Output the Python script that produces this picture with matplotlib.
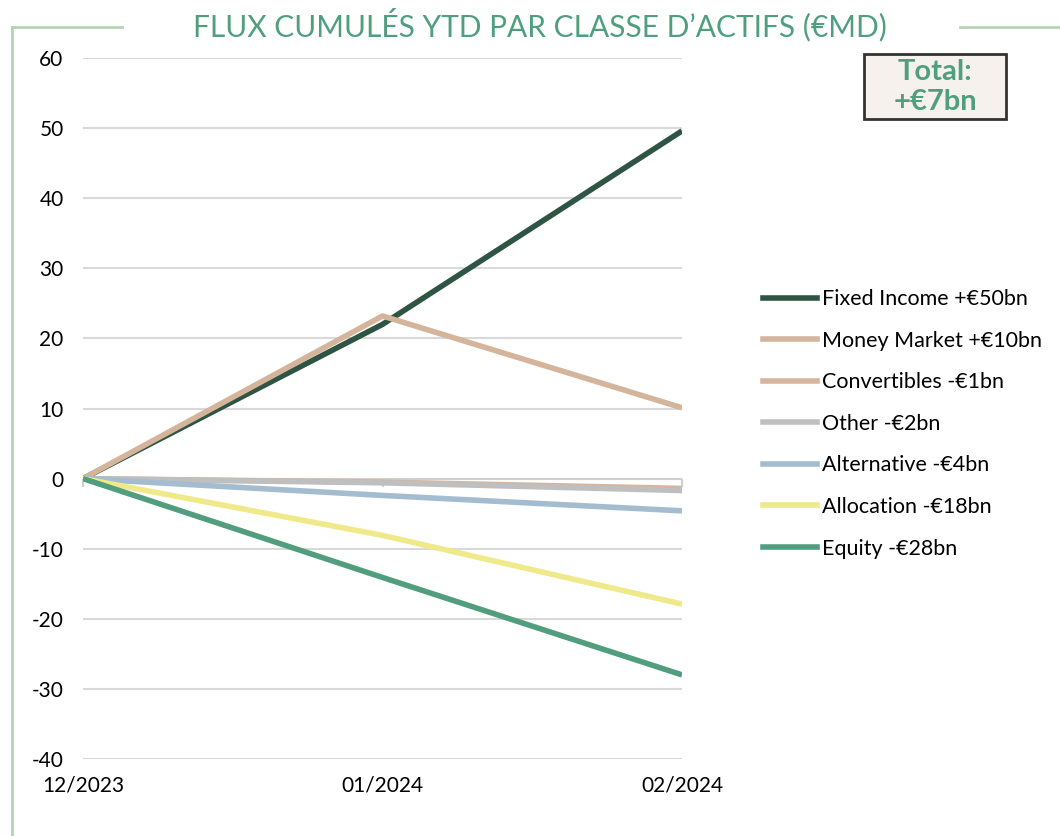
import matplotlib.pyplot as plt
from matplotlib.patches import FancyBboxPatch
from matplotlib.lines import Line2D

plt.rcParams['font.family'] = ['Lato', 'DejaVu Sans']

# Daten
dates = ['12/2023', '01/2024', '02/2024']
labels = ['Fixed Income +€50bn', 'Money Market +€10bn', 'Convertibles -€1bn',
          'Other -€2bn', 'Alternative -€4bn', 'Allocation -€18bn', 'Equity -€28bn']
fixed_income = [0, 22.0, 49.6]
money_market = [0, 23.2, 10.1]
convertibles = [0, -0.5, -1.4]
other = [0, -0.6, -1.7]
alternative = [0, -2.4, -4.6]
allocation = [0, -8.1, -17.9]
equity = [0, -14.1, -28.0]
colors = ['#2e5444', '#d4b49a', '#d6b59c', '#bfbfbf', '#a3bccf', '#efe98a', '#519e7f']
y_ticks = [-40, -30, -20, -10, 0, 10, 20, 30, 40, 50, 60]

series = [fixed_income, money_market, convertibles, other, alternative, allocation, equity]
green = '#4f9f7f'

fig = plt.figure(figsize=(10.6, 8.36), dpi=100)
ax = fig.add_axes([83 / 1060, 1 - 759 / 836, (682 - 83) / 1060, (759 - 58) / 836])

for y in y_ticks:
    if y != 0:
        ax.axhline(y, color='#d9d9d9', lw=1.5, zorder=0)
ax.axhline(0, color='#d0d0d0', lw=1.5, zorder=0)

xs = list(range(len(dates)))
for vals, col, lab in zip(series, colors, labels):
    ax.plot(xs, vals, color=col, lw=4, label=lab, solid_capstyle='butt', zorder=2)

ax.set_xlim(0, len(dates) - 1)
ax.set_ylim(-40, 60)
ax.set_yticks(y_ticks)
ax.set_yticklabels([str(v) for v in y_ticks], fontsize=15)
ax.set_xticks(xs)
ax.set_xticklabels(dates, fontsize=15)
ax.tick_params(axis='both', length=0)
ax.tick_params(axis='y', pad=14)
ax.tick_params(axis='x', pad=12)
for s in ax.spines.values():
    s.set_visible(False)

# kleine Tickmarks an der Nulllinie
sec = ax.secondary_xaxis(0.4)
sec.set_xticks(xs)
sec.set_xticklabels(['', '', ''])
sec.tick_params(axis='x', direction='out', length=6, color='#d0d0d0', width=1.5)
sec.spines['bottom'].set_visible(False)

# Legende
handles = [Line2D([0], [0], color=c, lw=4) for c in colors]
fig.legend(handles, labels, loc='upper left', bbox_to_anchor=(744 / 1060, 1 - 270 / 836),
           frameon=False, fontsize=15.5, handlelength=2.5, handletextpad=0.2,
           labelspacing=1.0)

# Titel und Rahmen
fig.text(540 / 1060, 1 - 25 / 836, 'FLUX CUMULÉS YTD PAR CLASSE D’ACTIFS (€MD)',
         ha='center', va='center', fontsize=21.5, color=green)
frame_col = '#b5d3b5'
fig.add_artist(Line2D([12 / 1060, 122 / 1060], [1 - 27 / 836, 1 - 27 / 836],
                      color=frame_col, lw=2, transform=fig.transFigure))
fig.add_artist(Line2D([960 / 1060, 1.0], [1 - 27 / 836, 1 - 27 / 836],
                      color=frame_col, lw=2, transform=fig.transFigure))
fig.add_artist(Line2D([12 / 1060, 12 / 1060], [1 - 27 / 836, 0],
                      color=frame_col, lw=2, transform=fig.transFigure))

# Total-Box
box = FancyBboxPatch((864 / 1060, 1 - 119 / 836), 142 / 1060, 65 / 836,
                     boxstyle='square,pad=0', transform=fig.transFigure,
                     facecolor='#f6f1ed', edgecolor='#333333', lw=2)
fig.add_artist(box)
fig.text(935 / 1060, 1 - 87 / 836, 'Total:\n+€7bn', ha='center', va='center',
         fontsize=21, fontweight='bold', color=green, linespacing=1.15)

fig.savefig('out.png', dpi=100)
